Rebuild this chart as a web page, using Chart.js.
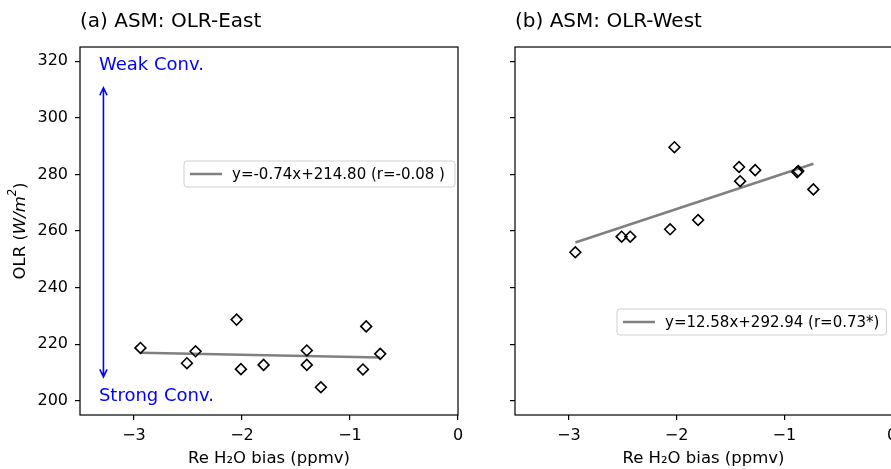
<!DOCTYPE html>
<html><head><meta charset="utf-8">
<script src="https://cdn.jsdelivr.net/npm/chart.js@4"></script>
<style>
html,body{margin:0;padding:0;width:891px;height:469px;overflow:hidden;background:#fff;}
#c1{position:absolute;left:0;top:0;}
#c2{position:absolute;left:470px;top:0;}
</style></head><body>
<canvas id="c1" width="470" height="469" style="width:470px;height:469px"></canvas>
<canvas id="c2" width="430" height="469" style="width:430px;height:469px"></canvas>
<script>
// ---- data ----
const panelTitles = ['(a) ASM: OLR-East', '(b) ASM: OLR-West'];
const xEast   = [-2.94, -2.51, -2.43, -2.05, -2.01, -1.80, -1.40, -1.40, -1.27, -0.85, -0.88, -0.72];
const olrEast = [218.7, 213.3, 217.5, 228.7, 211.2, 212.7, 217.8, 212.7, 204.8, 226.3, 211.1, 216.6];
const xWest   = [-2.94, -2.51, -2.43, -2.02, -2.06, -1.80, -1.42, -1.41, -1.27, -0.88, -0.87, -0.73];
const olrWest = [252.5, 258.0, 258.0, 289.6, 260.6, 263.9, 282.6, 277.6, 281.5, 280.8, 281.2, 274.7];
const fitSlopes     = [-0.74, 12.58];
const fitIntercepts = [214.80, 292.94];
const fitLabels = ['y=-0.74x+214.80 (r=-0.08 )', 'y=12.58x+292.94 (r=0.73*)'];
const xTickValues = [-3, -2, -1, 0];
const xTickLabels = ['\u22123', '\u22122', '\u22121', '0'];
const yTickValues = [200, 220, 240, 260, 280, 300, 320];
const yTickLabels = ['200', '220', '240', '260', '280', '300', '320'];
const xRange = [-3.5, 0];
const yRange = [195, 325];
const convLabels = ['Weak Conv.', 'Strong Conv.'];
const convArrow = {x: -3.283, from: 208.5, to: 310.6};
const convTextPos = [{x: -3.325, y: 316.8}, {x: -3.325, y: 199.8}];
const xTitle = 'Re H\u2082O bias (ppmv)';

const FONT = "'DejaVu Sans', sans-serif";

// ---- plugins ----
const framePlugin = {
  id: 'frame',
  afterDraw(chart) {
    const {ctx, chartArea: a} = chart;
    ctx.save();
    ctx.strokeStyle = '#000'; ctx.lineWidth = 1.2;
    ctx.strokeRect(a.left, a.top, a.right - a.left, a.bottom - a.top);
    ctx.restore();
  }
};

const regLegendPlugin = {
  id: 'regLegend',
  afterDraw(chart, args, opts) {
    if (!opts || !opts.text) return;
    const {ctx, chartArea: a} = chart;
    ctx.save();
    ctx.font = '15px ' + FONT;
    const tw = ctx.measureText(opts.text).width;
    const x0 = a.left + opts.dx, y0 = a.top + opts.dy;
    const w = tw + opts.extra, h = 26;
    const r = 3;
    ctx.beginPath();
    ctx.moveTo(x0 + r, y0);
    ctx.arcTo(x0 + w, y0, x0 + w, y0 + h, r);
    ctx.arcTo(x0 + w, y0 + h, x0, y0 + h, r);
    ctx.arcTo(x0, y0 + h, x0, y0, r);
    ctx.arcTo(x0, y0, x0 + w, y0, r);
    ctx.closePath();
    ctx.fillStyle = 'rgba(255,255,255,0.8)';
    ctx.fill();
    ctx.strokeStyle = '#d0d0d0'; ctx.lineWidth = 1;
    ctx.stroke();
    ctx.beginPath();
    ctx.moveTo(x0 + 6, y0 + h / 2); ctx.lineTo(x0 + 38, y0 + h / 2);
    ctx.strokeStyle = '#808080'; ctx.lineWidth = 2.5;
    ctx.stroke();
    ctx.fillStyle = '#000';
    ctx.textBaseline = 'middle';
    ctx.fillText(opts.text, x0 + 48, y0 + h / 2 + 1);
    ctx.restore();
  }
};

const convPlugin = {
  id: 'conv',
  afterDatasetsDraw(chart, args, opts) {
    if (!opts || !opts.on) return;
    const {ctx, scales: {x, y}} = chart;
    ctx.save();
    ctx.strokeStyle = '#0000ff'; ctx.lineWidth = 1.6;
    const px = x.getPixelForValue(convArrow.x);
    const pTop = y.getPixelForValue(convArrow.to);
    const pBot = y.getPixelForValue(convArrow.from);
    ctx.beginPath();
    ctx.moveTo(px, pTop); ctx.lineTo(px, pBot);
    ctx.moveTo(px - 3.6, pTop + 7.5); ctx.lineTo(px, pTop); ctx.lineTo(px + 3.6, pTop + 7.5);
    ctx.moveTo(px - 3.6, pBot - 7.5); ctx.lineTo(px, pBot); ctx.lineTo(px + 3.6, pBot - 7.5);
    ctx.stroke();
    ctx.fillStyle = '#0000ff';
    ctx.font = '18px ' + FONT;
    ctx.textBaseline = 'alphabetic'; ctx.textAlign = 'left';
    convLabels.forEach((t, i) => {
      ctx.fillText(t, x.getPixelForValue(convTextPos[i].x), y.getPixelForValue(convTextPos[i].y));
    });
    ctx.restore();
  }
};

const yLabelPlugin = {
  id: 'ylab',
  afterDraw(chart, args, opts) {
    if (!opts || !opts.on) return;
    const {ctx, chartArea: a} = chart;
    const segs = [
      {t: 'OLR (', f: '16.5px ' + FONT, dy: 0},
      {t: 'W/m', f: 'italic 16.5px ' + FONT, dy: 0},
      {t: '2', f: 'italic 11.5px ' + FONT, dy: -7},
      {t: ')', f: '16.5px ' + FONT, dy: 0}
    ];
    ctx.save();
    let total = 0;
    segs.forEach(s => { ctx.font = s.f; s.w = ctx.measureText(s.t).width; total += s.w; });
    ctx.translate(20.5, (a.top + a.bottom) / 2);
    ctx.rotate(-Math.PI / 2);
    ctx.fillStyle = '#000';
    ctx.textBaseline = 'middle';
    let cx = -total / 2;
    segs.forEach(s => { ctx.font = s.f; ctx.fillText(s.t, cx, s.dy); cx += s.w; });
    ctx.restore();
  }
};

function makeChart(id, idx, xs, ys, yAxisWidth, padRight) {
  const pts = xs.map((v, i) => ({x: v, y: ys[i]}));
  const xmin = Math.min(...xs), xmax = Math.max(...xs);
  const fit = [xmin, xmax].map(v => ({x: v, y: fitSlopes[idx] * v + fitIntercepts[idx]}));
  return new Chart(document.getElementById(id), {
    type: 'scatter',
    data: {
      datasets: [
        {label: fitLabels[idx], data: fit, showLine: true, borderColor: '#808080', borderWidth: 2.5,
         pointRadius: 0, fill: false, order: 2},
        {label: 'models', data: pts, pointStyle: 'rectRot', pointRadius: 5.4, pointHoverRadius: 5.4,
         borderColor: '#000', borderWidth: 1.6, backgroundColor: 'rgba(0,0,0,0)', order: 1}
      ]
    },
    options: {
      responsive: false, animation: false, devicePixelRatio: 1,
      layout: {padding: {left: 0, right: padRight, top: 0, bottom: 0}},
      plugins: {
        legend: {display: false}, tooltip: {enabled: false},
        title: {display: true, text: panelTitles[idx], align: 'start', fullSize: false,
                color: '#000', font: {family: FONT, size: 20, weight: 'normal', lineHeight: 1.2},
                padding: {top: 10, bottom: 13}},
        regLegend: idx === 0 ? {text: fitLabels[0], dx: 104, dy: 114, extra: 58} : {text: fitLabels[1], dx: 102, dy: 262, extra: 55},
        conv: {on: idx === 0},
        ylab: {on: idx === 0}
      },
      scales: {
        x: {
          type: 'linear', min: xRange[0], max: xRange[1],
          afterBuildTicks: s => { s.ticks = xTickValues.map(v => ({value: v})); },
          afterFit: s => { s.height = 54; s.paddingLeft = 0; s.paddingRight = 0; },
          ticks: {color: '#000', font: {family: FONT, size: 16}, padding: 6, maxRotation: 0,
                  autoSkip: false,
                  callback: v => { const i = xTickValues.indexOf(v); return i >= 0 ? xTickLabels[i] : ''; }},
          grid: {display: true, drawOnChartArea: false, drawTicks: true, tickLength: 5, color: '#000', lineWidth: 1.2},
          border: {display: false},
          title: {display: true, text: xTitle, color: '#000', font: {family: FONT, size: 16.5, lineHeight: 1.2},
                  padding: {top: 0, bottom: 0}}
        },
        y: {
          type: 'linear', min: yRange[0], max: yRange[1],
          afterBuildTicks: s => { s.ticks = yTickValues.map(v => ({value: v})); },
          afterFit: s => { s.width = yAxisWidth; s.paddingTop = 0; s.paddingBottom = 0; },
          ticks: {color: '#000', font: {family: FONT, size: 16}, padding: 7, autoSkip: false,
                  callback: v => { if (idx === 1) return ''; const i = yTickValues.indexOf(v); return i >= 0 ? yTickLabels[i] : ''; }},
          grid: {display: true, drawOnChartArea: false, drawTicks: true, tickLength: 5, color: '#000', lineWidth: 1.2},
          border: {display: false}
        }
      }
    },
    plugins: [framePlugin, regLegendPlugin, convPlugin, yLabelPlugin]
  });
}

makeChart('c1', 0, xEast, olrEast, 80, 12);
makeChart('c2', 1, xWest, olrWest, 45, 8);
</script>
</body></html>
